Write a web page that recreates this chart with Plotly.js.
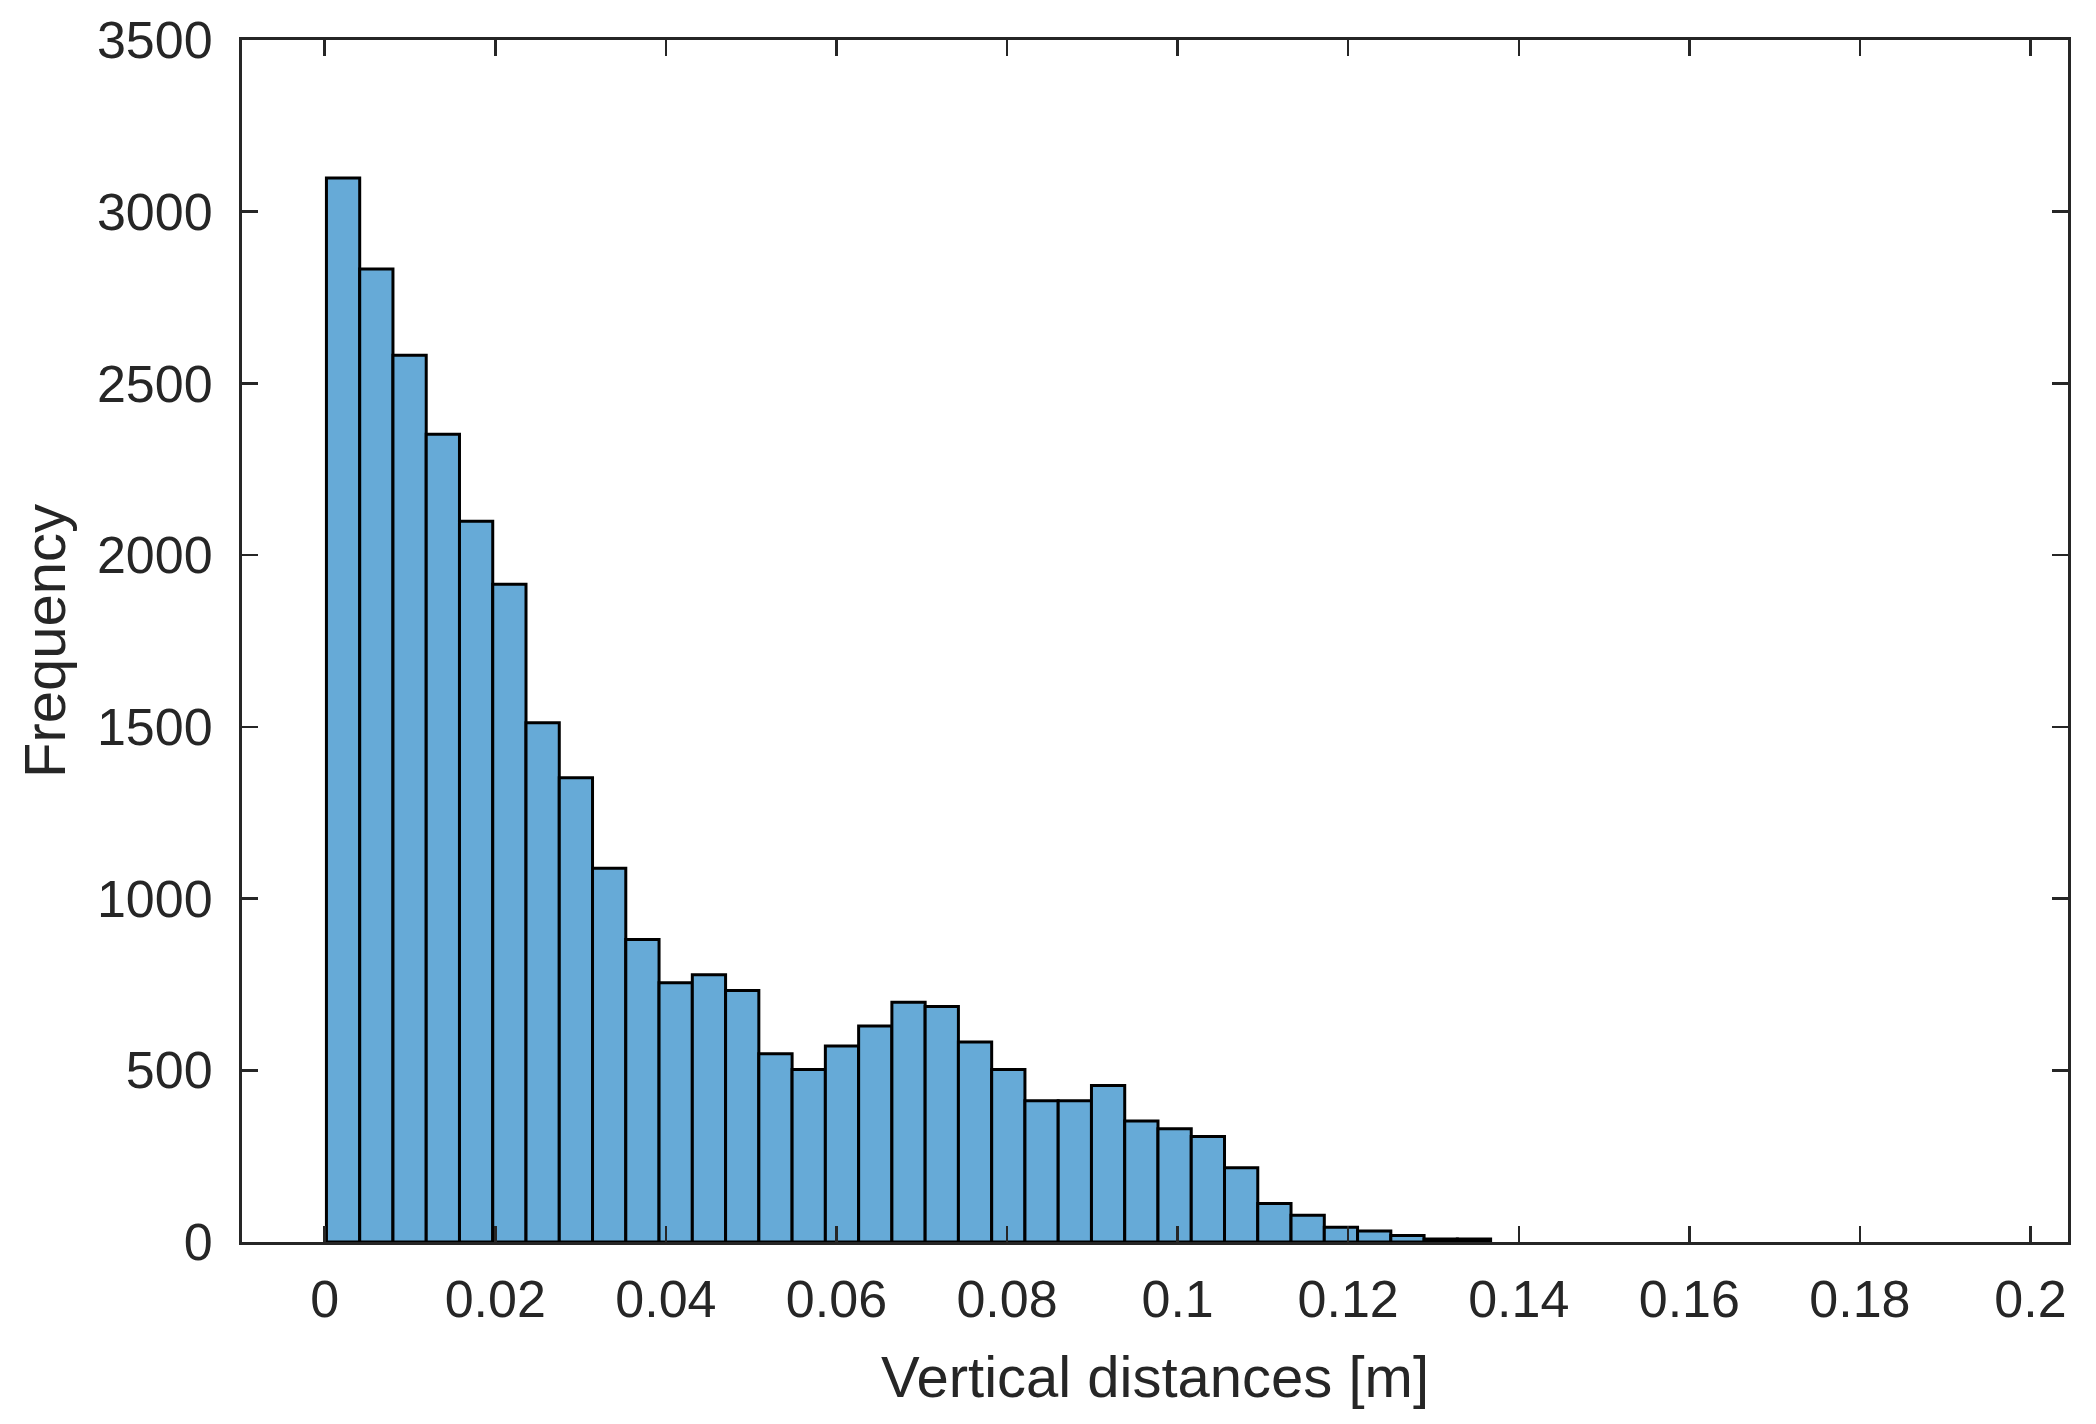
<!DOCTYPE html>
<html>
<head>
<meta charset="utf-8">
<script src="https://cdn.plot.ly/plotly-3.0.1.min.js"></script>
<style>
  html, body { margin: 0; padding: 0; background: #ffffff; }
  #chart { width: 2096px; height: 1424px; }
</style>
</head>
<body>
<div id="chart"></div>
<script>
// Histogram of vertical distances (counts)
const binStart = 0.0002;   // left edge of first bin [m]
const binWidth = 0.0039;   // bin width [m]
const counts = [
  3098, 2833, 2582, 2352, 2099, 1915, 1512, 1352, 1088, 881,
  755, 778, 732, 548, 502, 571, 629, 698, 686, 582,
  502, 411, 411, 456, 352, 330, 307, 216, 112, 78,
  43, 32, 19, 9, 9
];
const xTickVals = [0, 0.02, 0.04, 0.06, 0.08, 0.1, 0.12, 0.14, 0.16, 0.18, 0.2];
const xTickText = ['0', '0.02', '0.04', '0.06', '0.08', '0.1', '0.12', '0.14', '0.16', '0.18', '0.2'];
const yTickVals = [0, 500, 1000, 1500, 2000, 2500, 3000, 3500];
const yTickText = ['0', '500', '1000', '1500', '2000', '2500', '3000', '3500'];
const xLabel = 'Vertical distances [m]';
const yLabel = 'Frequency';

const centers = counts.map((_, i) => binStart + binWidth * (i + 0.5));

const axisColor = '#262626';
const fontFamily = '"Liberation Sans", Arial, Helvetica, sans-serif';

const trace = {
  type: 'bar',
  x: centers,
  y: counts,
  width: counts.map(() => binWidth),
  marker: {
    color: 'rgb(102,170,215)',
    line: { color: '#000000', width: 3 }
  },
  hoverinfo: 'x+y'
};

const layout = {
  width: 2096,
  height: 1424,
  paper_bgcolor: '#ffffff',
  plot_bgcolor: '#ffffff',
  margin: { l: 242, r: 28, t: 40, b: 182, pad: 0 },
  showlegend: false,
  bargap: 0,
  font: { family: fontFamily, color: axisColor, size: 52 },
  xaxis: {
    range: [-0.0097, 0.2044],
    tickmode: 'array',
    tickvals: xTickVals,
    ticktext: xTickText,
    ticks: 'inside',
    ticklen: 16,
    tickwidth: 2.5,
    tickcolor: axisColor,
    showline: true,
    linecolor: axisColor,
    linewidth: 3,
    mirror: 'allticks',
    showgrid: false,
    zeroline: false,
    tickfont: { family: fontFamily, size: 52, color: axisColor },
    ticklabelstandoff: 10,
    title: { text: xLabel, font: { family: fontFamily, size: 58, color: axisColor }, standoff: 29 },
    automargin: false,
    fixedrange: true
  },
  yaxis: {
    range: [0, 3500],
    tickmode: 'array',
    tickvals: yTickVals,
    ticktext: yTickText,
    ticks: 'inside',
    ticklen: 16,
    tickwidth: 2.5,
    tickcolor: axisColor,
    showline: true,
    linecolor: axisColor,
    linewidth: 3,
    mirror: 'allticks',
    showgrid: false,
    zeroline: false,
    tickfont: { family: fontFamily, size: 52, color: axisColor },
    ticklabelstandoff: 16,
    title: { text: yLabel, font: { family: fontFamily, size: 58, color: axisColor }, standoff: 13 },
    automargin: false,
    fixedrange: true
  }
};

Plotly.newPlot('chart', [trace], layout, { displayModeBar: false, staticPlot: true });
</script>
</body>
</html>
